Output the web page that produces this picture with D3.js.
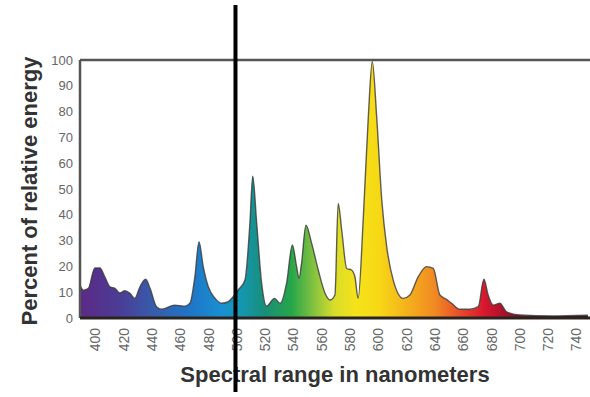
<!DOCTYPE html>
<html>
<head>
<meta charset="utf-8">
<script src="https://cdn.jsdelivr.net/npm/d3@7"></script>
<style>
  html, body { margin: 0; padding: 0; background: #fff; }
  svg { display: block; font-family: 'Liberation Sans', Arial, sans-serif; }
</style>
</head>
<body>
<svg id="chart" width="590" height="397"></svg>
<script>
// wavelength (nm) and relative energy (%)
const wavelengths = [389.4, 391.8, 395.3, 399.9, 403.5, 406.9, 410.6, 414.0, 417.6, 421.1, 424.7, 428.1, 431.8, 435.8, 438.9,
  443.5, 447.3, 456.3, 463.4, 467.1, 470.6, 473.5, 476.5, 480.1, 484.9, 489.6, 494.2, 497.7, 501.3, 506.0, 509.5, 511.5,
  514.3, 517.8, 521.3, 526.9, 530.9, 535.4, 539.5, 542.5, 544.2, 546.0, 549.1, 553.1, 557.8, 562.6, 566.2, 569.6, 571.9,
  574.4, 577.9, 581.3, 583.7, 586.0, 589.7, 593.2, 596.0, 599.1, 602.7, 606.2, 610.8, 617.9, 622.6, 628.5,
  634.4, 639.1, 643.8, 648.5, 652.1, 657.9, 665.0, 670.9, 674.9, 677.9, 681.5, 686.2, 690.9, 700.2, 723.4, 748.4]
const energy = [12.8, 10.8, 11.5, 19.4, 19.4, 16, 12.1, 11.5, 9.7, 10.6, 9.6, 7.6, 12.1, 15, 11.5,
  4.4, 3.4, 5, 4.6, 5.7, 16, 29.6, 19.9, 12.1, 7.6, 5.7, 6.3, 8.3, 10.9, 14.7, 36.7, 55,
  36.7, 13.4, 4.6, 7.6, 5.7, 13.4, 28.3, 19.9, 15.4, 21.2, 36, 29, 18.6, 9.6, 7, 8.9, 44.4,
  34, 19.2, 18.6, 16, 7.6, 39.3, 78, 99.4, 78, 45.7, 27.6, 14.7, 7.6, 8.9, 16,
  19.9, 19.2, 8.9, 7.2, 5.7, 3.4, 3.4, 4.4, 15, 8.9, 5, 5.7, 2.4, 1.2, 0.8, 1.1]

const xTicks = d3.range(400, 741, 20)
const yTicks = d3.range(0, 101, 10)

// spectrum colours for the fill
const gradNm = [390, 418, 438, 468, 490, 504, 520, 539, 555, 569, 584, 600, 620, 640, 660, 675, 690, 710, 748]
const gradColors = ['#5b2a86', '#4a3d96', '#3a58a8', '#1f76c6', '#1990d2', '#1596ae', '#188e78', '#27a64a',
  '#86c33f', '#d8dc2a', '#f5e31a', '#f7d916', '#f5b21c', '#f08a22', '#e8452a', '#d8182e', '#a8102a', '#5a1020', '#3a1012']

const markerNm = 499.3

const data = wavelengths.map((w, i) => ({ w, v: energy[i] }))

const svg = d3.select('#chart')
const x = d3.scaleLinear().domain([400, 740]).range([95, 576])
const y = d3.scaleLinear().domain([0, 100]).range([318, 60])
const x0 = x(wavelengths[0])
const x1 = 590

const defs = svg.append('defs')
const grad = defs.append('linearGradient')
  .attr('id', 'spectrum')
  .attr('gradientUnits', 'userSpaceOnUse')
  .attr('x1', x(gradNm[0])).attr('x2', x(gradNm[gradNm.length - 1]))
  .attr('y1', 0).attr('y2', 0)
grad.selectAll('stop')
  .data(gradNm)
  .enter()
  .append('stop')
  .attr('offset', d => (d - gradNm[0]) / (gradNm[gradNm.length - 1] - gradNm[0]))
  .attr('stop-color', (d, i) => gradColors[i])

const area = d3.area()
  .x(d => x(d.w))
  .y0(y(0))
  .y1(d => y(d.v))
  .curve(d3.curveMonotoneX)

svg.append('path')
  .datum(data)
  .attr('d', area)
  .attr('fill', 'url(#spectrum)')

svg.append('path')
  .datum(data)
  .attr('d', area.lineY1())
  .attr('fill', 'none')
  .attr('stroke', '#3a3a3a')
  .attr('stroke-opacity', 0.8)
  .attr('stroke-width', 1.4)

// frame: top and left
svg.append('line')
  .attr('x1', x0).attr('x2', x1).attr('y1', y(100)).attr('y2', y(100))
  .attr('stroke', '#555').attr('stroke-width', 2.5)
svg.append('line')
  .attr('x1', x0).attr('x2', x0).attr('y1', y(100)).attr('y2', y(0))
  .attr('stroke', '#555').attr('stroke-width', 2.5)
svg.append('line')
  .attr('x1', x0).attr('x2', x1).attr('y1', y(0)).attr('y2', y(0))
  .attr('stroke', '#2a2420').attr('stroke-width', 3)

// y axis labels
const yAxis = svg.append('g')
  .attr('transform', `translate(${x0 - 5},0)`)
  .call(d3.axisLeft(y).tickValues(yTicks).tickSize(0).tickPadding(2))
yAxis.select('.domain').remove()
yAxis.selectAll('text')
  .attr('font-size', 13)
  .attr('font-family', "'Liberation Sans', Arial, sans-serif")
  .attr('fill', '#666')

// x axis labels, rotated
const xAxis = svg.append('g')
  .attr('transform', `translate(0,${y(0)})`)
  .call(d3.axisBottom(x).tickValues(xTicks).tickSize(0))
xAxis.select('.domain').remove()
xAxis.selectAll('text')
  .attr('font-size', 14)
  .attr('font-family', "'Liberation Sans', Arial, sans-serif")
  .attr('fill', '#666')
  .attr('text-anchor', 'end')
  .attr('transform', 'translate(0,10) rotate(-90)')
  .attr('x', 0)
  .attr('y', 0)
  .attr('dy', '0.35em')

// axis titles
svg.append('text')
  .attr('x', 335).attr('y', 382)
  .attr('text-anchor', 'middle')
  .attr('font-size', 22)
  .attr('font-weight', 'bold')
  .attr('fill', '#333')
  .text('Spectral range in nanometers')

svg.append('text')
  .attr('transform', 'translate(37,191) rotate(-90)')
  .attr('text-anchor', 'middle')
  .attr('font-size', 22)
  .attr('font-weight', 'bold')
  .attr('fill', '#333')
  .text('Percent of relative energy')

// black marker line
svg.append('line')
  .attr('x1', x(markerNm)).attr('x2', x(markerNm))
  .attr('y1', 5).attr('y2', 392)
  .attr('stroke', '#000').attr('stroke-width', 4)
</script>
</body>
</html>
